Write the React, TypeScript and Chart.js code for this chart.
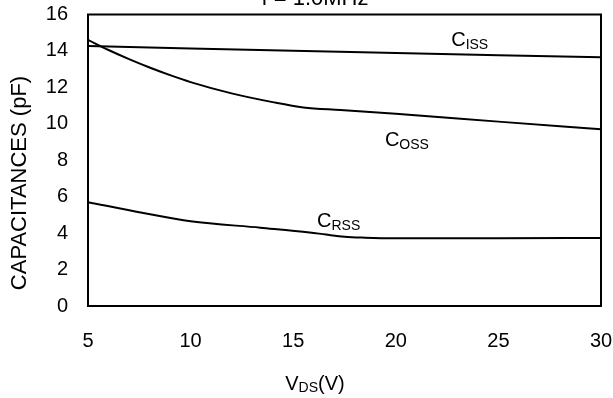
import React, { useEffect, useRef } from "react";
import { Chart, registerables } from "chart.js";

Chart.register(...registerables);

const cissV = [5, 10, 15, 20, 25, 30];
const ciss = [14.27, 14.14, 14.01, 13.89, 13.77, 13.65];

const cossV = [5, 6, 7, 8, 9, 10, 12, 14, 15.5, 17.3, 20, 25, 30];
const coss = [14.6, 14.05, 13.55, 13.09, 12.67, 12.29, 11.67, 11.19, 10.9, 10.76, 10.55, 10.12, 9.7];

const crssV = [5, 7.7, 10, 13.4, 15.8, 16.6, 17.5, 18.5, 20, 25, 30];
const crss = [5.7, 5.1, 4.65, 4.3, 4.04, 3.92, 3.8, 3.75, 3.72, 3.72, 3.73];

const xTicks = [5, 10, 15, 20, 25, 30];
const yTicks = [0, 2, 4, 6, 8, 10, 12, 14, 16];

const seriesNames = ["ISS", "OSS", "RSS"];
const labelX = [22.7, 19.47, 16.16];
const labelY = [14.27, 8.78, 4.34];

const titleText = "f = 1.0MHz";
const yTitle = "CAPACITANCES (pF)";

const FONT = "'Liberation Sans', Arial, Helvetica, sans-serif";

const decor = {
  id: "decor",
  afterDatasetsDraw(chart: any) {
    const { ctx, chartArea: a, scales } = chart;
    ctx.save();
    ctx.strokeStyle = "#000";
    ctx.lineWidth = 2;
    ctx.strokeRect(a.left, a.top, a.right - a.left, a.bottom - a.top);
    ctx.fillStyle = "#000";

    // title (cut off at top)
    ctx.font = `22px ${FONT}`;
    ctx.textAlign = "center";
    ctx.textBaseline = "alphabetic";
    ctx.fillText(titleText, 315, 4.5);

    // y title
    ctx.save();
    ctx.translate(26, 183);
    ctx.rotate(-Math.PI / 2);
    ctx.font = `22px ${FONT}`;
    ctx.textAlign = "center";
    ctx.fillText(yTitle, 0, 0);
    ctx.restore();

    // x title V_DS(V)
    ctx.textAlign = "left";
    const big = `20px ${FONT}`;
    const small = `14px ${FONT}`;
    ctx.font = big;
    const w1 = ctx.measureText("V").width;
    const w3 = ctx.measureText("(V)").width;
    ctx.font = small;
    const w2 = ctx.measureText("DS").width;
    let x0 = 315 - (w1 + w2 + w3) / 2;
    ctx.font = big;
    ctx.fillText("V", x0, 390);
    ctx.font = small;
    ctx.fillText("DS", x0 + w1, 392);
    ctx.font = big;
    ctx.fillText("(V)", x0 + w1 + w2, 390);

    // series labels
    for (let i = 0; i < seriesNames.length; i++) {
      const px = scales.x.getPixelForValue(labelX[i]);
      const py = scales.y.getPixelForValue(labelY[i]);
      ctx.font = big;
      ctx.fillText("C", px, py);
      const cw = ctx.measureText("C").width;
      ctx.font = small;
      ctx.fillText(seriesNames[i], px + cw, py + 3);
    }
    ctx.restore();
  },
};

export default function App() {
  const ref = useRef<HTMLCanvasElement | null>(null);
  useEffect(() => {
    if (!ref.current) return;
    const mk = (xs: number[], ys: number[]) => xs.map((x, i) => ({ x, y: ys[i] }));
    const ds = (d: any) => ({
      data: d,
      borderColor: "#000",
      borderWidth: 2,
      pointRadius: 0,
      fill: false,
      cubicInterpolationMode: "monotone" as const,
    });
    const chart = new Chart(ref.current, {
      type: "line",
      data: {
        datasets: [ds(mk(cissV, ciss)), ds(mk(cossV, coss)), ds(mk(crssV, crss))],
      },
      options: {
        animation: false,
        responsive: false,
        maintainAspectRatio: false,
        layout: { padding: { top: 14.5, right: 12, left: 0, bottom: 0 } },
        plugins: { legend: { display: false }, tooltip: { enabled: false }, title: { display: false } },
        scales: {
          x: {
            type: "linear",
            min: 5,
            max: 30,
            grid: { display: false },
            border: { display: false },
            afterBuildTicks: (s: any) => {
              s.ticks = xTicks.map((v) => ({ value: v }));
            },
            afterFit: (s: any) => {
              s.height = 92;
              s.paddingLeft = 0;
              s.paddingRight = 0;
            },
            ticks: { color: "#000", font: { family: FONT, size: 20 }, padding: 15, maxRotation: 0 },
          },
          y: {
            min: 0,
            max: 16,
            grid: { display: false },
            border: { display: false },
            afterBuildTicks: (s: any) => {
              s.ticks = yTicks.map((v) => ({ value: v }));
            },
            afterFit: (s: any) => {
              s.width = 88;
              s.paddingTop = 0;
              s.paddingBottom = 0;
            },
            ticks: { color: "#000", font: { family: FONT, size: 20 }, padding: 12 },
          },
        },
      },
      plugins: [decor],
    });
    return () => chart.destroy();
  }, []);
  return (
    <div style={{ position: "absolute", left: 0, top: 0, width: 613, height: 398, background: "#fff" }}>
      <canvas ref={ref} width={613} height={398} style={{ display: "block" }} />
    </div>
  );
}
